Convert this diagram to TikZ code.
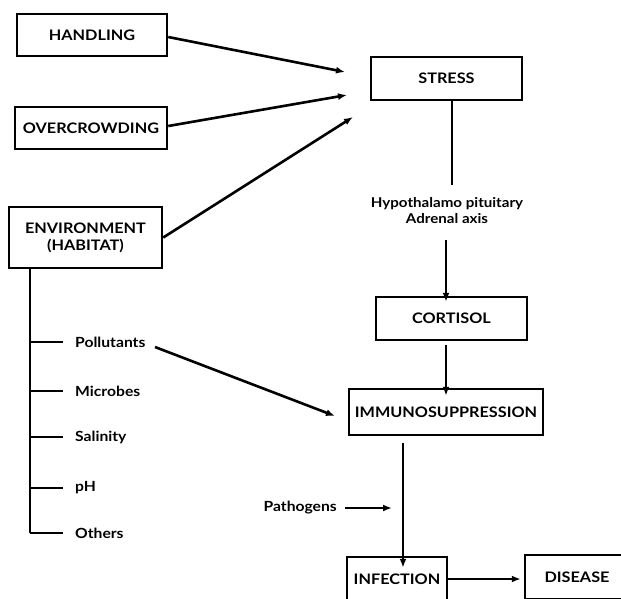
\documentclass[tikz,border=0pt]{standalone}
\usepackage{fontspec}
\setmainfont{Lato}[FakeStretch=1.12]
\usetikzlibrary{arrows.meta}
\begin{document}
\begin{tikzpicture}[x=1pt,y=-1pt,
  box/.style={draw,line width=2.5pt,inner sep=0pt,font=\bfseries\fontsize{14.5}{17}\selectfont,align=center},
  lbl/.style={inner sep=0pt,font=\bfseries\fontsize{14}{17}\selectfont,anchor=west},
  conn/.style={line width=2.6pt},
  arr/.style={conn,-{Latex[length=9pt,width=7pt]}}]
\useasboundingbox (0,0) rectangle (621,598);
\clip (0,0) rectangle (621,598);

% boxes
\node[box,minimum width=150pt,minimum height=42pt] (handling) at (92,35) {HANDLING};
\node[box,minimum width=152pt,minimum height=42pt] (overcrowd) at (91,128) {OVERCROWDING};
\node[box,minimum width=153pt,minimum height=61pt] (env) at (85.5,237.5) {ENVIRONMENT\\(HABITAT)};
\node[box,minimum width=151pt,minimum height=43pt] (stress) at (446.5,78.5) {STRESS};
\node[box,minimum width=151pt,minimum height=43pt] (cortisol) at (451.5,318.5) {CORTISOL};
\node[box,minimum width=194pt,minimum height=46pt] (immuno) at (446,412) {IMMUNOSUPPRESSION};
\node[box,minimum width=100pt,minimum height=44pt] (infection) at (397,579) {INFECTION};
\node[box,minimum width=104pt,minimum height=44pt] (disease) at (577,577) {DISEASE};

% inputs to stress
\coordinate (s1) at (345,72);
\coordinate (s2) at (347,95);
\coordinate (s3) at (353,117);
\draw[arr] ([yshift=-2pt]handling.east) -- (s1);
\draw[arr] ([yshift=2pt]overcrowd.east) -- (s2);
\draw[arr] (env.east) -- (s3);

% hypothalamo-pituitary-adrenal axis
\node[inner sep=0pt,align=center,font=\bfseries\fontsize{13.5}{16}\selectfont] (hpa) at (447,211) {Hypothalamo pituitary\\Adrenal axis};
\coordinate (hpaTop) at (452,185);
\coordinate (hpaOut) at (446,240);
\draw[conn] (stress.south -| hpaTop) -- (hpaTop);
\draw[arr] (hpaOut) -- ([yshift=-6pt]hpaOut |- cortisol.north);

% cortisol to immunosuppression
\coordinate (cOut) at (446,345);
\draw[arr] (cOut) -- ([yshift=-8pt]cOut |- immuno.north);

% immunosuppression to infection
\coordinate (iOut) at (403,443);
\draw[arr] (iOut) -- ([yshift=-12pt]iOut |- infection.north);

% pathogens
\node[lbl,anchor=east] (path) at (337,508) {Pathogens};
\coordinate (pathEnd) at (392,508);
\draw[arr] ([xshift=8pt]path.east) -- (pathEnd);

% infection to disease
\draw[arr] (infection.east) -- ([xshift=-3pt]disease.west |- infection.east);

% environmental factors
\coordinate (trunkEnd) at (30,533);
\draw[conn] (env.south -| trunkEnd) -- (trunkEnd);
\foreach \y/\t/\n in {342/Pollutants/poll,391/Microbes/micr,437/Salinity/sali,488/pH/ph,533/Others/oth}{
  \coordinate (b\n) at (30,\y);
  \node[lbl] (\n) at (75,\y) {\t};
  \draw[conn] (b\n) -- ([xshift=-12pt]\n.west);
}

% pollutants to immunosuppression
\coordinate (pStart) at (155,347);
\coordinate (pEnd) at (335,416);
\draw[arr] (pStart) -- (pEnd);
\end{tikzpicture}
\end{document}
